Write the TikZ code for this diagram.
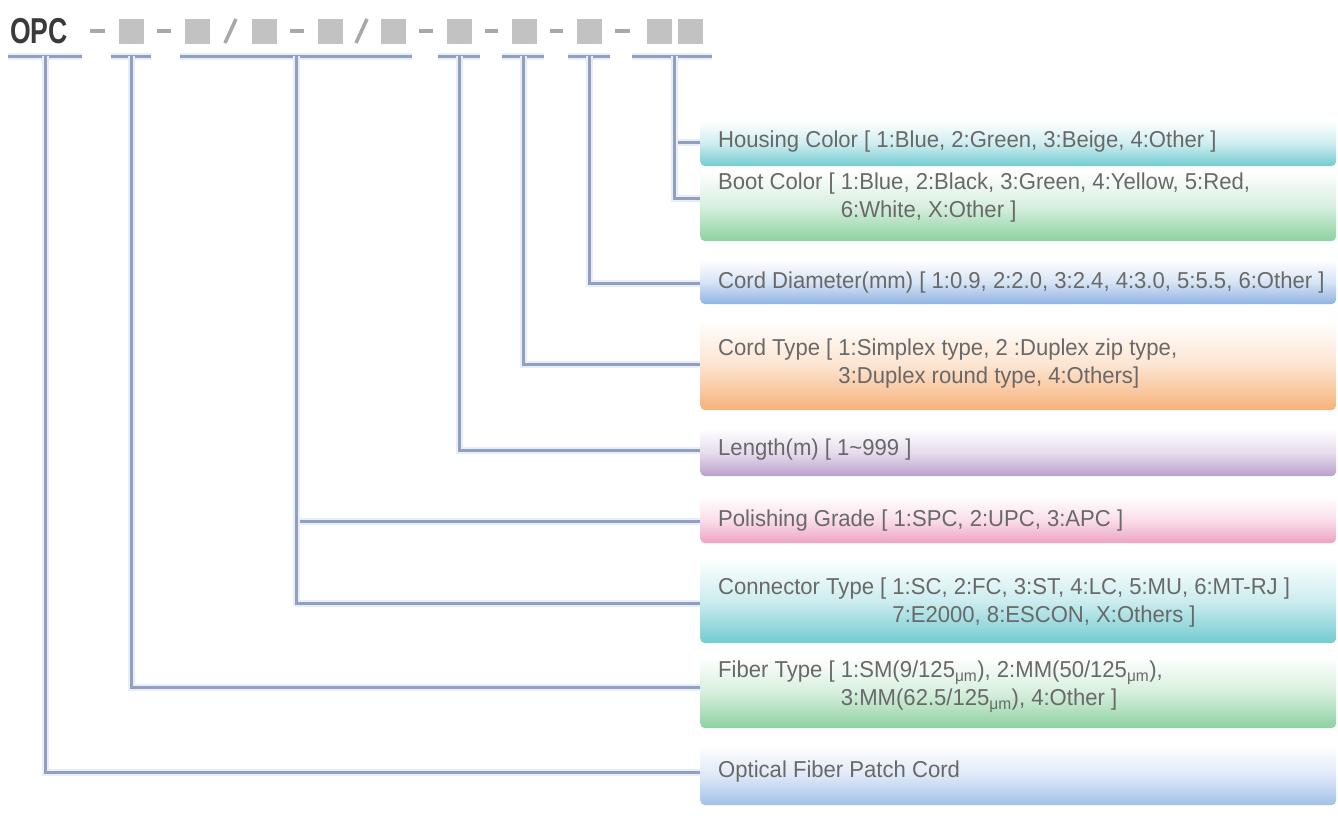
\documentclass[tikz,border=0pt]{standalone}
\usepackage{fontspec}
\setmainfont{Liberation Sans}
\newfontfamily\lblfont{Liberation Sans}[FakeStretch=0.96]
\newfontfamily\opcfont{Liberation Sans}[FakeStretch=0.74]
\definecolor{linec}{HTML}{939FBF}
\definecolor{glowc}{HTML}{E6EEF9}
\definecolor{txtc}{HTML}{696969}
\definecolor{sqc}{HTML}{C2C2C2}
\definecolor{dashc}{HTML}{A8A8A8}
\definecolor{opcc}{HTML}{3A3A3A}
\definecolor{cteal}{HTML}{72CBD0}
\definecolor{cgreen}{HTML}{8DD1A0}
\definecolor{cblue}{HTML}{8FB3E2}
\definecolor{corange}{HTML}{F7B27A}
\definecolor{cpurple}{HTML}{B99FCC}
\definecolor{cpink}{HTML}{EEA2C4}
\definecolor{cblue2}{HTML}{A2C0E8}
\tikzset{
  box/.style={rounded corners=5pt, inner sep=0pt, anchor=north west,
    minimum width=636pt, top color=white, bottom color=#1, middle color=#1!35},
  lbl/.style={anchor=west, align=left, inner sep=0pt, text=txtc,
    font=\lblfont\fontsize{23}{28}\selectfont},
  conn/.style={draw=linec, line width=3pt, preaction={draw=glowc, line width=7pt}},
  ul/.style={draw=linec, line width=3pt, preaction={draw=glowc, line width=7pt}},
  sq/.style={fill=sqc, minimum width=25pt, minimum height=25pt, inner sep=0pt},
  dashl/.style={draw=dashc, line width=3.5pt},
  opc/.style={text=opcc, inner sep=0pt, font=\opcfont\bfseries\fontsize{36}{36}\selectfont}
}
\begin{document}
\begin{tikzpicture}[x=1pt,y=-1pt]
\useasboundingbox (0,0) rectangle (1338,817);
\fill[white] (0,0) rectangle (1338,817);

% header
\node[opc] (opc) at (39,31) {OPC};
\node[sq] (s1) at (131,31) {};
\node[sq] (s2) at (197,31) {};
\node[sq] (s3) at (264,31) {};
\node[sq] (s4) at (330,31) {};
\node[sq] (s5) at (393,31) {};
\node[sq] (s6) at (459,31) {};
\node[sq] (s7) at (524,31) {};
\node[sq] (s8) at (589,31) {};
\node[sq] (s9) at (659,31) {};
\node[sq] (s10) at (690,31) {};
\draw[dashl] (90,31) -- (105,31);
\draw[dashl] (157,31) -- (171,31);
\draw[dashl] (290,31) -- (304,31);
\draw[dashl] (419,31) -- (433,31);
\draw[dashl] (485,31) -- (498,31);
\draw[dashl] (550,31) -- (563,31);
\draw[dashl] (615,31) -- (630,31);
\draw[dashl] (225,43) -- (236,19);
\draw[dashl] (356,43) -- (367,19);

% underlines
\draw[ul] (8,56) -- (82,56);
\draw[ul] (111,56) -- (151,56);
\draw[ul] (180,56) -- (412,56);
\draw[ul] (438,56) -- (480,56);
\draw[ul] (502,56) -- (544,56);
\draw[ul] (568,56) -- (610,56);
\draw[ul] (632,56) -- (712,56);
\coordinate (u0) at (45,56);
\coordinate (u1) at (131,56);
\coordinate (u2) at (296,56);
\coordinate (u3) at (459,56);
\coordinate (u4) at (523,56);
\coordinate (u5) at (589,56);
\coordinate (u6) at (674,56);

% boxes
\node[box=cteal,   minimum height=45pt] (b1) at (700,121) {};
\node[box=cgreen,  minimum height=70pt] (b2) at (700,171) {};
\node[box=cblue,   minimum height=45pt] (b3) at (700,259) {};
\node[box=corange, minimum height=90pt] (b4) at (700,320) {};
\node[box=cpurple, minimum height=48pt] (b5) at (700,428) {};
\node[box=cpink,   minimum height=47pt] (b6) at (700,496) {};
\node[box=cteal,   minimum height=86pt] (b7) at (700,557) {};
\node[box=cgreen,  minimum height=72pt] (b8) at (700,656) {};
\node[box=cblue2,  minimum height=60pt] (b9) at (700,745) {};

\node[lbl] (t1) at (718,142) {Housing Color [ 1:Blue, 2:Green, 3:Beige, 4:Other ]};
\node[lbl] (t2) at (718,198) {Boot Color [ 1:Blue, 2:Black, 3:Green, 4:Yellow, 5:Red,\\\phantom{Boot Color [ }6:White, X:Other ]};
\node[lbl] (t3) at (718,283) {Cord Diameter(mm) [ 1:0.9, 2:2.0, 3:2.4, 4:3.0, 5:5.5, 6:Other ]};
\node[lbl] (t4) at (718,364) {Cord Type [ 1:Simplex type, 2 :Duplex zip type,\\\phantom{Cord Type [ }3:Duplex round type, 4:Others]};
\node[lbl] (t5) at (718,450) {Length(m) [ 1\textasciitilde 999 ]};
\node[lbl] (t6) at (718,521) {Polishing Grade [ 1:SPC, 2:UPC, 3:APC ]};
\node[lbl] (t7) at (718,603) {Connector Type [ 1:SC, 2:FC, 3:ST, 4:LC, 5:MU, 6:MT-RJ ]\\\phantom{Connector Type [ }7:E2000, 8:ESCON, X:Others ]};
\node[lbl] (t8) at (718,687) {Fiber Type [ 1:SM(9/125\textsubscript{μm}), 2:MM(50/125\textsubscript{μm}),\\\phantom{Fiber Type [ }3:MM(62.5/125\textsubscript{μm}), 4:Other ]};
\node[lbl] (t9) at (718,772) {Optical Fiber Patch Cord};

% connectors
\draw[conn] (u6) |- (t1.west -| b1.west);
\draw[conn] (u6) |- (t2.west -| b2.west);
\draw[conn] (u5) |- (t3.west -| b3.west);
\draw[conn] (u4) |- (t4.west -| b4.west);
\draw[conn] (u3) |- (t5.west -| b5.west);
\draw[conn] (u2) |- (t6.west -| b6.west);
\draw[conn] (u2) |- (t7.west -| b7.west);
\draw[conn] (u1) |- (t8.west -| b8.west);
\draw[conn] (u0) |- (t9.west -| b9.west);
\end{tikzpicture}
\end{document}
